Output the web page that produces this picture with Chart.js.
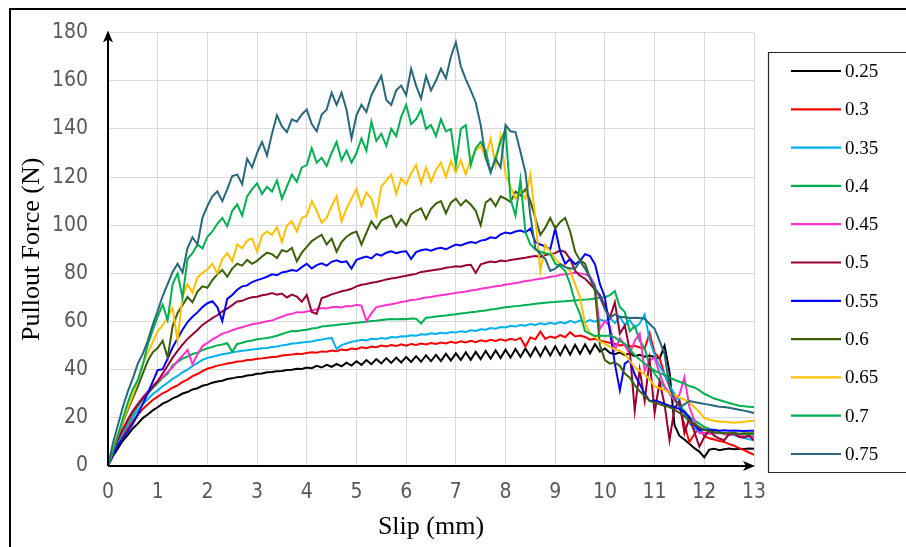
<!DOCTYPE html>
<html>
<head>
<meta charset="utf-8">
<title>Pullout force vs slip</title>
<script src="https://cdn.jsdelivr.net/npm/chart.js@4.4.1/dist/chart.umd.min.js"></script>
<style>
  html, body { margin: 0; padding: 0; background: #fff; overflow: hidden; }
  #wrap { width: 906px; height: 547px; }
</style>
</head>
<body>
<div id="wrap"><canvas id="pulloutChart" width="906" height="547"></canvas></div>
<script>
// slip positions (mm), shared by every curve
const SLIP = [
  0, 0.1, 0.2, 0.3, 0.4, 0.5, 0.6, 0.7, 0.8, 0.9,
  1, 1.1, 1.2, 1.3, 1.4, 1.5, 1.6, 1.7, 1.8, 1.9,
  2, 2.1, 2.2, 2.3, 2.4, 2.5, 2.6, 2.7, 2.8, 2.9,
  3, 3.1, 3.2, 3.3, 3.4, 3.5, 3.6, 3.7, 3.8, 3.9,
  4, 4.1, 4.2, 4.3, 4.4, 4.5, 4.6, 4.7, 4.8, 4.9,
  5, 5.1, 5.2, 5.3, 5.4, 5.5, 5.6, 5.7, 5.8, 5.9,
  6, 6.1, 6.2, 6.3, 6.4, 6.5, 6.6, 6.7, 6.8, 6.9,
  7, 7.1, 7.2, 7.3, 7.4, 7.5, 7.6, 7.7, 7.8, 7.9,
  8, 8.1, 8.2, 8.3, 8.4, 8.5, 8.6, 8.7, 8.8, 8.9,
  9, 9.1, 9.2, 9.3, 9.4, 9.5, 9.6, 9.7, 9.8, 9.9,
  10, 10.1, 10.2, 10.3, 10.4, 10.5, 10.6, 10.7, 10.8, 10.9,
  11, 11.1, 11.2, 11.3, 11.4, 11.5, 11.6, 11.7, 11.8, 11.9,
  12, 12.1, 12.2, 12.3, 12.4, 12.5, 12.6, 12.7, 12.8, 12.9, 13
];

const SERIES_NAMES = ['0.25', '0.3', '0.35', '0.4', '0.45', '0.5', '0.55', '0.6', '0.65', '0.7', '0.75'];
const SERIES_COLORS = ['#000000', '#FF0000', '#00B0F0', '#00B050', '#FF33CC', '#990033',
                       '#0000FF', '#3B6108', '#FFC000', '#00B050', '#27697A'];

// pullout force (N) for each curve
const F_025 = [
  0, 4.2, 7.3, 10.6, 12.9, 15.6, 17.6, 19.9, 21.4, 23.1,
  24.4, 25.9, 26.8, 28.1, 28.9, 30.1, 30.7, 31.8, 32.3, 33.3,
  33.8, 34.6, 35.1, 35.4, 36.1, 36.4, 36.9, 37.1, 37.6, 37.8,
  38.3, 38.4, 38.9, 39.0, 39.4, 39.5, 39.9, 40.0, 40.4, 40.3,
  40.9, 40.6, 41.6, 40.9, 42.0, 41.2, 42.4, 41.4, 42.9, 41.7,
  43.5, 42.0, 44.0, 42.3, 44.4, 42.6, 44.8, 42.8, 45.0, 43.0,
  45.3, 43.2, 45.6, 43.3, 46.0, 43.5, 46.2, 43.6, 46.6, 43.8,
  46.8, 44.0, 47.2, 44.1, 47.4, 44.4, 47.8, 44.6, 48.0, 44.8,
  48.3, 45.0, 48.6, 45.3, 48.8, 45.5, 49.2, 45.6, 49.5, 45.9,
  49.7, 46.0, 50.0, 46.3, 50.3, 46.6, 50.5, 46.8, 50.6, 47.5,
  48.8, 47.0, 46.4, 47.2, 46.0, 46.8, 45.6, 46.2, 45.4, 45.9,
  45.2, 44.6, 50.0, 39.0, 17.0, 12.5, 11.0, 9.2, 7.4, 6.0,
  3.6, 6.8, 7.2, 6.6, 7.0, 7.3, 7.0, 7.2, 7.1, 7.3, 7.2
];
const F_030 = [
  0, 4.6, 8.8, 12.5, 15.8, 18.7, 21.2, 23.7, 25.5, 27.4,
  28.8, 30.2, 31.2, 32.5, 33.5, 34.9, 35.9, 37.3, 38.2, 39.4,
  40.4, 41.0, 41.7, 42.1, 42.6, 42.9, 43.4, 43.5, 44.0, 44.1,
  44.5, 44.7, 45.0, 45.3, 45.4, 45.9, 46.1, 46.3, 46.6, 46.5,
  46.9, 47.2, 47.0, 47.6, 47.5, 48.0, 47.7, 48.4, 48.1, 48.8,
  48.5, 49.3, 48.9, 49.6, 49.3, 50.0, 49.6, 50.2, 49.8, 50.5,
  50.0, 50.7, 50.3, 50.9, 50.5, 51.1, 50.7, 51.3, 50.9, 51.6,
  51.1, 51.8, 51.3, 52.0, 51.4, 52.2, 51.7, 52.4, 51.9, 52.6,
  52.0, 52.8, 52.3, 53.2, 49.6, 53.4, 52.6, 55.8, 52.8, 53.8,
  53.2, 54.4, 53.5, 55.6, 53.8, 54.2, 53.6, 52.5, 52.8, 52.0,
  51.6, 51.2, 50.8, 50.1, 50.4, 49.6, 49.9, 49.2, 48.8, 55.2,
  47.0, 44.8, 38.0, 33.0, 28.4, 24.5, 17.0, 10.0, 13.2, 16.0,
  12.4, 11.5, 11.0, 10.4, 10.0, 9.1, 8.4, 7.4, 6.6, 5.6, 4.6
];
const F_035 = [
  0, 5.1, 9.6, 13.6, 17.1, 20.2, 23.0, 25.6, 27.7, 29.9,
  31.4, 33.1, 34.6, 36.2, 37.4, 38.9, 40.0, 41.6, 42.7, 44.1,
  44.9, 45.4, 45.9, 46.4, 46.7, 47.2, 47.5, 47.9, 48.1, 48.4,
  48.6, 48.9, 49.0, 49.4, 49.6, 50.1, 50.4, 50.9, 51.0, 51.3,
  51.5, 51.7, 52.2, 52.5, 52.9, 53.2, 48.6, 50.2, 50.9, 51.6,
  51.9, 52.4, 52.1, 52.8, 52.6, 53.2, 52.9, 53.6, 53.4, 53.9,
  53.8, 54.3, 54.1, 54.7, 54.5, 55.1, 54.8, 55.3, 55.0, 55.6,
  55.4, 56.0, 55.7, 56.4, 56.1, 56.8, 56.6, 57.3, 57.0, 57.7,
  57.5, 58.2, 57.9, 58.6, 58.3, 59.0, 58.6, 59.3, 58.8, 59.5,
  59.0, 59.8, 59.2, 60.3, 59.5, 60.5, 59.7, 60.6, 59.9, 60.8,
  60.1, 61.5, 59.4, 62.0, 58.6, 60.6, 57.4, 59.2, 63.0, 52.4,
  46.0, 41.5, 38.0, 33.4, 30.0, 27.2, 21.5, 17.8, 15.6, 14.2,
  13.6, 13.9, 13.5, 13.7, 13.6, 13.2, 12.8, 12.2, 11.6, 11.1, 10.7
];
const F_040 = [
  0, 5.4, 10.1, 14.2, 18.1, 21.6, 24.6, 27.6, 30.0, 32.4,
  34.4, 36.6, 38.4, 41.9, 43.2, 44.6, 45.4, 46.5, 47.1, 48.1,
  48.9, 49.4, 50.1, 50.5, 51.0, 47.4, 50.7, 51.2, 51.8, 52.1,
  52.6, 52.9, 53.2, 53.6, 54.1, 54.8, 55.5, 56.1, 56.0, 56.4,
  56.6, 57.1, 57.3, 57.9, 58.1, 58.4, 58.6, 58.9, 59.0, 59.3,
  59.5, 59.7, 59.9, 60.2, 60.3, 60.6, 60.8, 61.0, 60.9, 61.1,
  61.0, 61.3, 61.2, 59.2, 61.6, 61.8, 62.1, 62.3, 62.5, 62.8,
  63.0, 63.3, 63.5, 63.9, 64.1, 64.4, 64.6, 65.0, 65.2, 65.6,
  65.9, 66.1, 66.4, 66.6, 66.9, 67.1, 67.4, 67.6, 67.8, 68.0,
  68.1, 68.3, 68.4, 68.6, 68.7, 68.9, 69.1, 69.3, 69.6, 69.9,
  70.1, 71.0, 72.6, 66.0, 64.0, 56.0, 58.2, 52.0, 49.0, 41.5,
  38.4, 35.6, 32.6, 30.2, 27.6, 24.5, 23.0, 20.4, 19.0, 17.6,
  16.2, 15.4, 14.8, 14.0, 13.6, 13.4, 13.2, 13.1, 13.0, 13.1, 13.0
];
const F_045 = [
  0, 5.6, 10.6, 15.1, 19.0, 22.6, 25.7, 28.6, 31.0, 33.3,
  35.1, 37.0, 39.1, 41.0, 43.6, 45.8, 48.2, 42.3, 46.4, 49.8,
  51.1, 52.6, 53.7, 55.0, 55.6, 56.4, 57.1, 57.6, 58.3, 58.9,
  59.2, 59.6, 60.1, 60.4, 61.3, 62.0, 62.8, 63.2, 63.9, 63.8,
  64.2, 64.6, 65.1, 65.6, 65.4, 65.9, 66.1, 65.8, 66.4, 66.3,
  67.0, 66.6, 60.2, 63.4, 66.0, 66.4, 66.9, 67.2, 67.6, 68.1,
  68.4, 68.9, 69.1, 69.6, 70.0, 70.2, 70.6, 70.9, 71.2, 71.5,
  71.9, 72.2, 72.5, 72.9, 73.1, 73.6, 73.9, 74.2, 74.7, 74.9,
  75.4, 75.6, 76.0, 76.3, 76.8, 77.0, 77.5, 77.8, 78.1, 78.6,
  78.8, 79.4, 79.6, 79.9, 80.3, 80.0, 79.6, 78.8, 75.0, 57.0,
  60.2, 58.0, 48.2, 53.0, 50.0, 46.6, 52.0, 55.0, 39.6, 44.0,
  45.0, 38.4, 33.0, 30.2, 27.0, 29.6, 36.8, 24.5, 19.0, 13.6,
  13.8, 13.4, 13.6, 14.0, 13.2, 12.8, 13.4, 12.6, 12.4, 12.2, 12.0
];
const F_050 = [
  0, 5.8, 11.0, 15.4, 19.3, 22.8, 25.6, 28.2, 30.4, 32.8,
  35.2, 38.4, 41.6, 45.0, 47.8, 50.4, 52.8, 54.6, 56.5, 58.6,
  60.0, 61.4, 62.6, 64.2, 65.4, 66.8, 68.3, 68.6, 69.5, 70.1,
  70.3, 70.9, 71.2, 71.8, 71.1, 71.6, 70.0, 71.2, 70.4, 68.2,
  71.0, 64.0, 63.2, 69.8, 70.4, 71.3, 71.9, 72.6, 73.0, 73.6,
  74.6, 75.3, 75.6, 76.1, 76.4, 76.9, 77.5, 77.9, 78.2, 78.6,
  79.0, 79.4, 79.8, 80.6, 80.9, 81.2, 81.5, 81.8, 82.3, 82.6,
  83.0, 82.8, 83.4, 83.6, 80.2, 83.8, 84.4, 84.9, 84.6, 85.3,
  85.0, 85.6, 85.9, 86.2, 86.5, 86.9, 87.2, 86.8, 87.6, 88.0,
  88.4, 89.6, 88.8, 86.0, 81.0, 79.0, 77.8, 75.6, 73.4, 71.0,
  66.4, 61.5, 68.0, 55.0, 58.4, 48.0, 23.0, 40.0, 27.0, 44.0,
  22.0, 35.0, 25.6, 10.7, 24.0, 27.0, 13.6, 20.0, 14.2, 8.0,
  12.0, 15.0, 12.6, 11.4, 10.7, 13.2, 13.6, 12.0, 11.8, 12.6, 10.7
];
const F_055 = [
  0, 4.8, 8.6, 11.6, 14.4, 17.6, 21.4, 25.8, 30.2, 35.0,
  39.8, 40.2, 44.6, 49.2, 53.0, 56.6, 59.8, 62.0, 63.8, 66.0,
  67.6, 68.4, 66.0, 60.2, 69.4, 71.0, 73.2, 74.6, 75.0, 76.4,
  77.2, 77.8, 78.6, 79.6, 79.2, 80.4, 80.8, 81.4, 81.0, 82.6,
  84.0, 82.0, 83.4, 84.2, 83.2, 84.8, 85.4, 84.6, 85.0, 82.0,
  85.6, 86.4, 87.0, 86.2, 88.0, 87.4, 88.6, 89.2, 88.4, 89.0,
  89.2, 86.0, 88.8, 89.6, 90.0, 89.4, 90.2, 90.6, 90.0, 91.0,
  92.0, 91.6, 92.4, 93.0, 92.6, 93.6, 94.0, 95.0, 94.6, 96.2,
  97.0, 96.6, 97.4, 97.8, 97.0, 98.6, 93.0, 92.0, 91.2, 90.0,
  98.6, 89.0, 84.0, 86.0, 83.8, 85.2, 88.0, 87.2, 83.8, 75.5,
  70.0, 56.0, 42.5, 31.4, 42.5, 44.0, 38.0, 34.0, 30.0, 27.0,
  27.2, 26.6, 25.8, 25.0, 24.5, 23.6, 22.4, 20.0, 17.0, 14.9,
  15.2, 14.8, 15.0, 14.6, 14.8, 14.6, 14.7, 14.6, 14.5, 14.6, 14.6
];
const F_060 = [
  0, 6.4, 12.6, 18.2, 23.4, 28.2, 33.0, 38.4, 43.6, 47.2,
  49.0, 52.0, 45.0, 58.0, 63.6, 66.8, 70.2, 68.0, 72.4, 74.6,
  74.0, 77.2, 79.6, 81.4, 78.6, 82.0, 84.0, 83.2, 85.6, 84.0,
  85.2, 87.0, 88.6, 88.0, 86.4, 89.6, 89.0, 90.6, 85.0, 88.6,
  91.0, 93.4, 94.8, 96.0, 92.0, 94.4, 89.0, 93.0, 95.2, 96.6,
  97.4, 92.0, 96.8, 101.6, 98.6, 102.0, 103.0, 104.0, 99.4, 102.4,
  100.0, 104.6, 106.0, 107.0, 102.6, 106.8, 109.0, 110.0, 105.0, 109.4,
  111.0, 108.2, 110.4, 108.6, 106.0, 100.0, 109.4, 111.0, 108.0, 112.0,
  111.0, 109.6, 114.0, 112.4, 115.0, 110.0, 103.0, 96.0, 99.0, 103.0,
  98.7, 101.4, 103.0, 97.4, 89.0, 85.4, 84.0, 78.0, 72.6, 50.0,
  44.0, 42.5, 43.0, 41.6, 38.4, 36.7, 33.6, 31.0, 29.2, 27.0,
  26.4, 25.6, 25.0, 24.5, 23.4, 22.0, 20.6, 19.0, 17.6, 16.2,
  15.0, 14.4, 14.0, 13.8, 13.6, 13.6, 13.8, 13.4, 13.6, 13.6, 13.6
];
const F_065 = [
  0, 6.8, 13.0, 18.8, 24.2, 29.4, 36.0, 42.6, 47.0, 51.4,
  56.0, 58.4, 62.0, 65.6, 52.0, 70.4, 75.5, 72.0, 78.4, 80.2,
  81.6, 84.0, 80.0, 86.0, 88.4, 85.0, 92.0, 90.4, 93.6, 94.5,
  89.0, 95.8, 97.4, 96.0, 99.2, 93.0, 100.0, 101.6, 97.4, 103.0,
  104.0, 110.0, 106.0, 101.0, 103.0, 108.0, 112.0, 101.6, 107.0, 111.0,
  115.0, 108.0, 113.6, 111.0, 104.0, 116.0, 118.6, 121.0, 113.0, 119.4,
  117.0, 121.6, 125.0, 117.4, 124.0, 118.0, 123.0, 126.0, 120.0, 126.6,
  122.0, 127.0, 121.0, 127.6, 131.0, 133.0, 128.0, 136.0, 125.0, 137.0,
  121.0, 116.0, 111.0, 114.0, 111.0, 121.0, 103.0, 81.0, 92.0, 89.0,
  86.0, 84.0, 83.0, 81.0, 75.5, 70.0, 59.0, 55.0, 53.6, 51.8,
  50.8, 49.6, 48.4, 47.9, 46.6, 43.7, 41.0, 39.6, 38.0, 36.0,
  33.0, 32.4, 31.6, 30.4, 29.4, 28.5, 27.6, 26.4, 24.5, 22.4,
  20.0, 19.2, 18.8, 18.5, 18.4, 18.2, 18.0, 18.2, 18.4, 18.6, 18.8
];
const F_070 = [
  0, 6.0, 12.8, 19.8, 26.4, 32.0, 35.6, 42.0, 50.4, 56.4,
  62.0, 67.0, 60.6, 75.5, 80.0, 70.0, 86.0, 88.4, 92.0, 90.4,
  95.2, 97.4, 100.6, 103.0, 99.6, 106.0, 108.6, 104.0, 112.0, 115.0,
  117.4, 113.0, 116.0, 114.0, 118.6, 111.0, 116.0, 121.0, 118.0, 124.0,
  125.0, 132.0, 126.0, 128.0, 124.6, 130.0, 134.6, 127.0, 131.0, 126.0,
  130.0, 136.0, 131.0, 143.0, 135.0, 138.0, 133.0, 140.0, 137.0, 145.0,
  150.0, 142.0, 144.0, 148.0, 140.0, 141.6, 137.0, 144.0, 139.0, 140.0,
  125.0, 140.0, 141.6, 125.0, 132.0, 134.6, 131.0, 122.0, 128.0, 134.6,
  140.0, 111.0, 104.0, 119.0, 97.0, 92.0, 90.0, 89.0, 88.4, 88.0,
  84.0, 83.0, 81.0, 75.5, 68.0, 63.0, 56.0, 55.0, 54.0, 54.2,
  54.0, 54.2, 53.4, 52.0, 50.8, 48.4, 46.0, 44.2, 42.6, 41.0,
  39.6, 38.6, 37.8, 36.8, 35.8, 35.0, 34.2, 33.2, 32.6, 31.4,
  30.0, 29.0, 28.0, 27.4, 26.8, 26.2, 25.6, 25.0, 24.8, 24.6, 24.5
];
const F_075 = [
  0, 9.6, 17.0, 24.6, 31.0, 36.4, 42.5, 46.6, 52.0, 58.6,
  64.4, 70.6, 75.5, 80.6, 84.0, 80.4, 90.5, 95.0, 92.0, 103.0,
  108.0, 112.0, 114.0, 110.0, 115.0, 120.4, 121.0, 117.0, 127.6, 124.0,
  130.0, 134.6, 129.0, 138.0, 145.7, 141.0, 138.7, 144.0, 143.0, 146.0,
  148.0, 142.0, 139.0, 146.0, 148.0, 155.0, 150.0, 155.0, 148.0, 136.0,
  145.6, 150.0, 147.0, 154.0, 158.0, 162.0, 152.0, 150.0, 156.0, 158.0,
  154.0, 165.0, 158.0, 152.6, 162.0, 156.0, 160.0, 165.0, 161.0, 170.0,
  176.0, 166.0, 160.6, 156.0, 151.0, 141.6, 128.0, 122.0, 127.6, 124.0,
  141.6, 139.0, 138.7, 130.5, 122.0, 104.0, 90.4, 88.0, 86.0, 81.0,
  82.0, 83.8, 82.6, 82.0, 82.0, 85.0, 82.0, 78.0, 74.0, 70.0,
  65.0, 61.5, 63.0, 62.0, 61.8, 61.5, 61.6, 61.5, 61.2, 59.0,
  57.0, 52.0, 46.6, 32.6, 28.0, 24.5, 25.6, 27.0, 26.6, 26.2,
  25.8, 25.4, 25.0, 24.6, 24.5, 24.2, 23.8, 23.4, 23.0, 22.5, 22.0
];

const FORCES = [F_025, F_030, F_035, F_040, F_045, F_050, F_055, F_060, F_065, F_070, F_075];

const X_TICK_STEP = 1;
const Y_TICK_STEP = 20;

const TICK_FONT = { family: "'Liberation Sans Narrow', 'DejaVu Sans Condensed', sans-serif", size: 21 };
const TITLE_FONT = { family: "'Liberation Serif', 'Times New Roman', serif", size: 26 };
const LEGEND_FONT = "19px 'Liberation Serif', 'Times New Roman', serif";

// arrows on both axes, outer frame and the boxed legend on the right
const decorations = {
  id: 'decorations',
  beforeDraw(chart) {
    const ctx = chart.ctx;
    ctx.save();
    ctx.fillStyle = '#ffffff';
    ctx.fillRect(0, 0, chart.width, chart.height);
    ctx.restore();
  },
  afterDatasetsDraw(chart) {
    const ctx = chart.ctx;
    const xs = chart.scales.x, ys = chart.scales.y;
    const x0 = xs.getPixelForValue(0), x1 = xs.getPixelForValue(13);
    const y0 = ys.getPixelForValue(0), y1 = ys.getPixelForValue(180);
    ctx.save();
    ctx.strokeStyle = '#000';
    ctx.fillStyle = '#000';
    ctx.lineWidth = 2;
    ctx.beginPath();
    ctx.moveTo(x0, y0);
    ctx.lineTo(x0, y1 + 6);
    ctx.moveTo(x0, y0);
    ctx.lineTo(x1 - 6, y0);
    ctx.stroke();
    // arrow heads
    ctx.beginPath();
    ctx.moveTo(x0, y1 - 2);
    ctx.lineTo(x0 - 5, y1 + 10);
    ctx.lineTo(x0, y1 + 7);
    ctx.lineTo(x0 + 5, y1 + 10);
    ctx.closePath();
    ctx.fill();
    ctx.beginPath();
    ctx.moveTo(x1 + 1, y0);
    ctx.lineTo(x1 - 11, y0 - 5);
    ctx.lineTo(x1 - 8, y0);
    ctx.lineTo(x1 - 11, y0 + 5);
    ctx.closePath();
    ctx.fill();
    ctx.restore();
  },
  afterDraw(chart) {
    const ctx = chart.ctx;
    ctx.save();
    // outer frame (runs off the right and bottom edges)
    ctx.fillStyle = '#000';
    ctx.fillRect(9, 8, chart.width, 2);
    ctx.fillRect(9, 8, 2, chart.height);

    // legend box
    const boxLeft = 768.5, boxTop = 52.5, boxBottom = 472.5;
    ctx.strokeStyle = '#262626';
    ctx.lineWidth = 1.2;
    ctx.beginPath();
    ctx.moveTo(chart.width + 5, boxTop);
    ctx.lineTo(boxLeft, boxTop);
    ctx.lineTo(boxLeft, boxBottom);
    ctx.lineTo(chart.width + 5, boxBottom);
    ctx.stroke();

    ctx.font = LEGEND_FONT;
    ctx.textBaseline = 'middle';
    ctx.textAlign = 'left';
    SERIES_NAMES.forEach((name, i) => {
      const y = 71 + i * 38.3;
      ctx.strokeStyle = SERIES_COLORS[i];
      ctx.lineWidth = 2.2;
      ctx.beginPath();
      ctx.moveTo(791, y);
      ctx.lineTo(841, y);
      ctx.stroke();
      ctx.fillStyle = '#000';
      ctx.fillText(name, 845, y + 1);
    });
    ctx.restore();
  }
};

const datasets = SERIES_NAMES.map((name, i) => ({
  label: name,
  data: SLIP.map((x, k) => ({ x: x, y: FORCES[i][k] })),
  borderColor: SERIES_COLORS[i],
  backgroundColor: SERIES_COLORS[i],
  borderWidth: 2,
  pointRadius: 0,
  tension: 0,
  // thicker ratios sit on top, as in the original plot
  order: SERIES_NAMES.length - i
}));

new Chart(document.getElementById('pulloutChart'), {
  type: 'line',
  data: { datasets: datasets },
  options: {
    responsive: false,
    animation: false,
    layout: { padding: { left: 0, top: 30, right: 152, bottom: 0 } },
    plugins: {
      legend: { display: false },
      tooltip: { enabled: false }
    },
    scales: {
      x: {
        type: 'linear',
        min: 0,
        max: 13,
        afterFit: (scale) => { scale.height = 81; },
        ticks: { stepSize: X_TICK_STEP, color: '#595959', font: TICK_FONT, padding: 14, maxRotation: 0 },
        grid: { color: '#D9D9D9', lineWidth: 1, drawTicks: false },
        border: { display: false },
        title: { display: true, text: 'Slip (mm)', color: '#000', font: TITLE_FONT, padding: { top: 0, bottom: 4 } }
      },
      y: {
        type: 'linear',
        min: 0,
        max: 180,
        afterFit: (scale) => { scale.width = 108; },
        ticks: { stepSize: Y_TICK_STEP, color: '#595959', font: TICK_FONT, padding: 20 },
        grid: { color: '#D9D9D9', lineWidth: 1, drawTicks: false },
        border: { display: false },
        title: { display: true, text: 'Pullout Force (N)', color: '#000', font: TITLE_FONT, padding: { top: 17, bottom: 0 } }
      }
    }
  },
  plugins: [decorations]
});
</script>
</body>
</html>
